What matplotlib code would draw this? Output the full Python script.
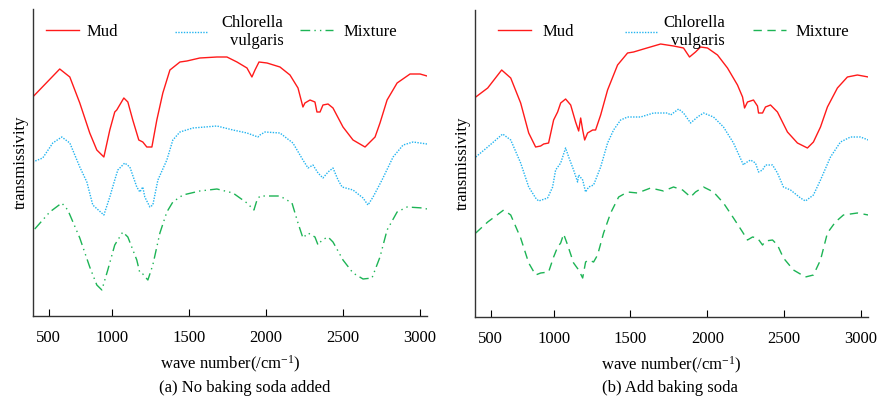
import numpy as np
import matplotlib
matplotlib.use("Agg")
import matplotlib.pyplot as plt
from matplotlib.legend import Legend

plt.rcParams['font.family'] = ['Liberation Serif', 'DejaVu Serif']
plt.rcParams['mathtext.fontset'] = 'custom'
plt.rcParams['mathtext.rm'] = 'Liberation Serif'
plt.rcParams['mathtext.it'] = 'Liberation Serif:italic'

# ---- (a) no baking soda ----
a_mud_x = [373, 587, 667, 746, 825, 881, 937, 984, 1019, 1032, 1078, 1104, 1136, 1175, 1201, 1227,
           1260, 1292, 1331, 1377, 1442, 1487, 1571, 1682, 1747, 1812, 1877, 1909, 1929, 1955, 2007,
           2091, 2156, 2208, 2240, 2253, 2286, 2318, 2331, 2351, 2370, 2403, 2435, 2500, 2565, 2643,
           2708, 2740, 2786, 2851, 2935, 3000, 3045]
a_mud_y = [219, 247, 239, 213, 183, 166, 159, 186, 204, 206, 218, 214, 196, 176, 174, 169,
           169, 196, 223, 246, 254, 255, 258, 259, 259, 254, 248, 239, 246, 254, 253,
           249, 241, 228, 209, 213, 216, 214, 204, 204, 211, 212, 208, 189, 176, 169,
           179, 193, 216, 233, 242, 242, 240]

a_chl_x = [373, 452, 532, 603, 667, 746, 802, 849, 937, 984, 1019, 1039, 1084, 1117, 1162, 1182,
           1201, 1214, 1247, 1266, 1299, 1357, 1396, 1442, 1526, 1682, 1786, 1877, 1948, 1961, 1994,
           2091, 2175, 2240, 2273, 2305, 2338, 2370, 2403, 2435, 2468, 2494, 2565, 2630, 2662, 2695,
           2753, 2825, 2890, 2955, 3045]
a_chl_y = [154, 158, 173, 179, 173, 149, 134, 111, 101, 119, 136, 146, 153, 149, 129, 124,
           129, 119, 109, 111, 136, 156, 176, 184, 188, 190, 186, 183, 179, 181, 184,
           183, 173, 156, 148, 151, 143, 138, 144, 148, 136, 129, 126, 118, 111, 119,
           136, 159, 171, 174, 172]

a_mix_x = [389, 508, 603, 651, 746, 825, 881, 921, 968, 1019, 1071, 1104, 1162, 1182, 1201, 1234,
           1266, 1312, 1357, 1396, 1461, 1571, 1682, 1786, 1877, 1922, 1942, 1961, 2091, 2169, 2208,
           2240, 2273, 2318, 2338, 2364, 2403, 2435, 2500, 2565, 2630, 2688, 2740, 2786, 2851, 2916,
           3019, 3045]
a_mix_y = [87, 104, 113, 106, 78, 49, 31, 26, 46, 71, 84, 79, 56, 43, 42, 36,
           51, 83, 104, 114, 121, 125, 127, 123, 113, 106, 116, 120, 120, 113, 93,
           78, 83, 79, 71, 76, 79, 74, 56, 43, 37, 38, 59, 86, 104, 109,
           108, 107]

# ---- (b) with baking soda ----
b_mud_x = [381, 476, 587, 659, 738, 802, 857, 897, 921, 960, 1000, 1026, 1046, 1078, 1111, 1143,
           1163, 1176, 1189, 1202, 1221, 1254, 1273, 1306, 1351, 1416, 1481, 1520, 1585, 1696, 1780,
           1845, 1884, 1923, 1956, 2001, 2066, 2131, 2196, 2229, 2242, 2261, 2300, 2326, 2333, 2359,
           2378, 2411, 2456, 2521, 2586, 2651, 2690, 2736, 2781, 2846, 2911, 2976, 3047]
b_mud_y = [220, 229, 247, 239, 214, 184, 170, 171, 173, 174, 197, 205, 214, 218, 212, 195,
           186, 199, 187, 177, 184, 187, 187, 202, 227, 252, 264, 265, 268, 273, 271,
           269, 260, 265, 270, 269, 262, 249, 232, 220, 209, 215, 217, 211, 204, 204,
           210, 212, 205, 185, 174, 169, 175, 190, 210, 229, 240, 242, 240]

b_chl_x = [381, 476, 595, 659, 738, 802, 857, 881, 952, 992, 1013, 1046, 1078, 1098, 1130, 1156,
           1163, 1189, 1208, 1228, 1260, 1306, 1351, 1390, 1436, 1481, 1566, 1650, 1741, 1761, 1813,
           1845, 1891, 1936, 1975, 2040, 2105, 2170, 2235, 2248, 2281, 2313, 2333, 2359, 2378, 2424,
           2456, 2495, 2541, 2606, 2638, 2690, 2736, 2801, 2866, 2931, 2996, 3047]
b_chl_y = [160, 170, 183, 177, 154, 130, 119, 116, 119, 130, 147, 154, 169, 160, 147, 135,
           142, 137, 125, 130, 132, 150, 174, 187, 197, 200, 200, 204, 204, 202, 208,
           204, 194, 200, 204, 200, 190, 174, 152, 154, 157, 154, 145, 147, 152, 152,
           144, 130, 127, 119, 116, 122, 137, 160, 175, 180, 180, 177]

b_mix_x = [381, 476, 603, 659, 738, 802, 857, 897, 960, 1000, 1026, 1046, 1065, 1091, 1130, 1163,
           1189, 1208, 1228, 1260, 1286, 1325, 1371, 1423, 1481, 1546, 1631, 1715, 1780, 1839, 1891,
           1923, 1975, 2040, 2105, 2170, 2229, 2261, 2294, 2326, 2359, 2378, 2424, 2456, 2495, 2560,
           2638, 2690, 2736, 2781, 2833, 2885, 2976, 3047]
b_mix_y = [84, 95, 107, 102, 79, 54, 42, 44, 45, 60, 70, 74, 83, 72, 54, 47,
           39, 55, 57, 55, 62, 84, 104, 120, 125, 124, 129, 126, 130, 127, 120,
           125, 130, 125, 114, 99, 85, 77, 80, 79, 72, 76, 77, 72, 59, 47,
           40, 42, 57, 84, 95, 102, 104, 102]

xticks = [500, 1000, 1500, 2000, 2500, 3000]
labels = ['Mud', 'Chlorella\nvulgaris', 'Mixture']
subtitles = ['(a) No baking soda added', '(b) Add baking soda']

red = '#ff1a1a'
blue = '#22b4f0'
green = '#1db455'


# the printed axis is stretched between 500 and 1000
def fwd(x):
    return np.interp(x, [0, 500, 1000, 4000], [-63, 0, 63, 525])


def inv(p):
    return np.interp(p, [-63, 0, 63, 525], [0, 500, 1000, 4000])


fig = plt.figure(figsize=(8.79, 3.98), dpi=100)
ax1 = fig.add_axes([33/879, 1-316/398, 394/879, 307/398])
ax2 = fig.add_axes([475/879, 1-317/398, 393/879, 307/398])

panels = [
    (ax1, (a_mud_x, a_mud_y), (a_chl_x, a_chl_y), (a_mix_x, a_mix_y), (0, (7, 3, 1, 3, 1, 3))),
    (ax2, (b_mud_x, b_mud_y), (b_chl_x, b_chl_y), (b_mix_x, b_mix_y), (0, (6, 4))),
]

for i, (ax, mud, chl, mix, mixstyle) in enumerate(panels):
    ax.set_xscale('function', functions=(fwd, inv))
    l1, = ax.plot(mud[0], mud[1], color=red, lw=1.0, solid_joinstyle='round')
    l2, = ax.plot(chl[0], chl[1], color=blue, lw=1.0, linestyle=(0, (1, 1)))
    l3, = ax.plot(mix[0], mix[1], color=green, lw=1.0, linestyle=mixstyle)
    ax.set_xlim(375, 3045)
    ax.set_ylim(0, 307)
    ax.set_xticks(xticks)
    ax.set_xticklabels([str(t) for t in xticks])
    ax.xaxis.set_minor_locator(matplotlib.ticker.NullLocator())
    ax.set_yticks([])
    ax.tick_params(axis='x', direction='in', length=5, width=0.8, pad=10, labelsize=12)
    for s in ['top', 'right']:
        ax.spines[s].set_visible(False)
    for s in ['left', 'bottom']:
        ax.spines[s].set_linewidth(1.0)
        ax.spines[s].set_color('#333333')
    ax.set_xlabel('wave number(/cm$^{-1}$)', fontsize=12, labelpad=6)
    ax.set_ylabel('transmissivity', fontsize=12, labelpad=3)

    # legend entries placed one by one, as in the figure
    if i == 0:
        xs, pads, ly = [0.033, 0.360, 0.678], [0.42, 0.8, 0.6], 0.925
    else:
        xs, pads, ly = [0.0585, 0.382, 0.707], [0.7, 0.3, 0.55], 0.928
    for h, lab, x0, pad in zip([l1, l2, l3], labels, xs, pads):
        leg = Legend(ax, [h], [lab], loc='center left', bbox_to_anchor=(x0, ly),
                     frameon=False, fontsize=12, handlelength=2.0, handletextpad=pad,
                     borderpad=0, borderaxespad=0)
        for t in leg.get_texts():
            t.set_multialignment('right')
        ax.add_artist(leg)

fig.text(245/879, 1-388/398, subtitles[0], ha='center', va='center', fontsize=12)
fig.text(670/879, 1-388/398, subtitles[1], ha='center', va='center', fontsize=12)

fig.savefig('out.png', dpi=100)
